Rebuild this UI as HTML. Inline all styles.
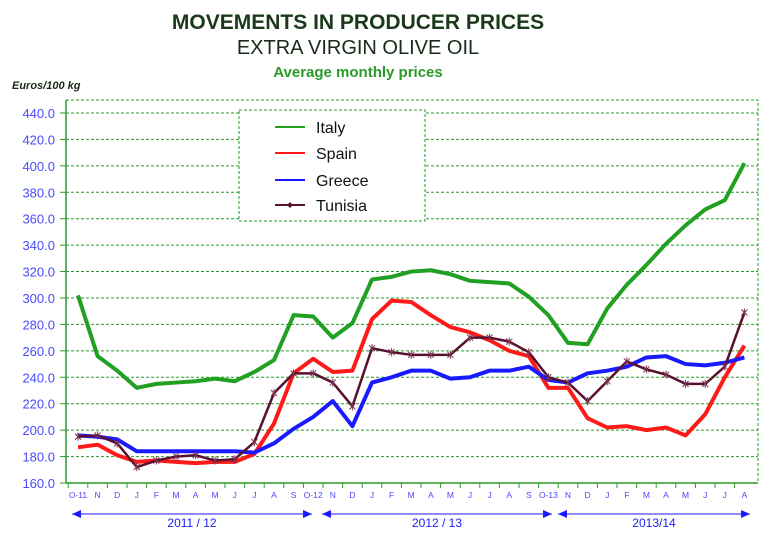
<!DOCTYPE html>
<html><head><meta charset="utf-8"><style>
body{margin:0;background:#fff;width:770px;height:539px;overflow:hidden}
svg{display:block;font-family:"Liberation Sans",Arial,sans-serif}
</style></head><body>
<svg id="s" width="770" height="539" xmlns="http://www.w3.org/2000/svg">
<text x="358" y="29" text-anchor="middle" font-size="21" font-weight="bold" fill="#1a3a1a">MOVEMENTS IN PRODUCER PRICES</text>
<text x="358" y="54" text-anchor="middle" font-size="20" fill="#1a2a1a">EXTRA VIRGIN OLIVE OIL</text>
<text x="358" y="77" text-anchor="middle" font-size="15" font-weight="bold" fill="#2a9a2a">Average monthly prices</text>
<text x="12" y="89" font-size="11" font-weight="bold" font-style="italic" fill="#1a2a1a">Euros/100 kg</text>
<g id="g"></g>
</svg>
<script>
const g=document.getElementById('g');let h='';
const X0=78,DX=19.6,Y0=483,K=26.43/20;
const yv=v=>Y0-(v-160)*K, xi=i=>X0+i*DX;
h+=`<rect x="66" y="100" width="692" height="383" fill="none" stroke="#2a9a2a" stroke-dasharray="3,2"/>`;
for(let v=160;v<=440;v+=20){const y=yv(v);
 if(v>160)h+=`<line x1="66" x2="758" y1="${y}" y2="${y}" stroke="#2a9a2a" stroke-dasharray="3,2"/>`;
 h+=`<line x1="60" x2="66" y1="${y}" y2="${y}" stroke="#2a9a2a"/>`;
 h+=`<text x="55" y="${y+5}" text-anchor="end" font-size="13" fill="#4a4aff">${v.toFixed(1)}</text>`;}
h+=`<line x1="66" x2="66" y1="100" y2="483" stroke="#2a9a2a" stroke-width="1.5"/><line x1="66" x2="758" y1="483" y2="483" stroke="#2a9a2a" stroke-width="1.5"/>`;
const L=['O-11','N','D','J','F','M','A','M','J','J','A','S','O-12','N','D','J','F','M','A','M','J','J','A','S','O-13','N','D','J','F','M','A','M','J','J','A'];
L.forEach((t,i)=>{h+=`<line x1="${xi(i)-DX/2}" x2="${xi(i)-DX/2}" y1="483" y2="488" stroke="#2a9a2a"/>`;
 h+=`<text x="${xi(i)}" y="498" text-anchor="middle" font-size="8.5" fill="#4a4aff">${t}</text>`;});
const S={
it:[302,256,245,232,235,236,237,239,237,244,253,287,286,270,281,314,316,320,321,318,313,312,311,301,287,266,265,292,310,325,341,355,367,374,402],
es:[187,189,181,176,177,176,175,176,176,182,205,243,254,244,245,284,298,297,287,278,274,268,260,256,232,232,209,202,203,200,202,196,212,240,264],
gr:[196,195,193,184,184,184,184,184,184,183,190,201,210,222,203,236,240,245,245,239,240,245,245,248,238,236,243,245,248,255,256,250,249,251,255],
tn:[195,196,190,172,177,180,181,177,178,191,228,243,243,236,218,262,259,257,257,257,270,270,267,259,240,236,222,237,252,246,242,235,235,248,289]};
const pl=(a,c,w)=>`<polyline fill="none" stroke="${c}" stroke-width="${w}" stroke-linejoin="round" points="${a.map((v,i)=>xi(i)+','+yv(v)).join(' ')}"/>`;
h+=pl(S.it,'#22a022',4)+pl(S.es,'#ff1a1a',4)+pl(S.gr,'#1a1aff',4)+pl(S.tn,'#5a1030',2.5);
S.tn.forEach((v,i)=>{const x=xi(i),y=yv(v);h+=`<path d="M${x-3} ${y-3}L${x+3} ${y+3}M${x+3} ${y-3}L${x-3} ${y+3}M${x} ${y-4}V${y+4}" stroke="#7a3050" stroke-width="1"/>`;});
h+=`<rect x="239" y="110" width="186" height="111" fill="#fff" stroke="#2a9a2a" stroke-dasharray="3,2"/>`;
[['Italy','#22a022',127],['Spain','#ff1a1a',153],['Greece','#1a1aff',180],['Tunisia','#5a1030',205]].forEach(([t,c,y])=>{
 h+=`<line x1="275" x2="305" y1="${y}" y2="${y}" stroke="${c}" stroke-width="2"/><text x="316" y="${y+6}" font-size="16" fill="#111">${t}</text>`;});
h+=`<path d="M290 202l3 3-3 3-3-3z" fill="#5a1030"/>`;
[[72,312,'2011 / 12'],[322,552,'2012 / 13'],[558,750,'2013/14']].forEach(([a,b,t])=>{
 h+=`<line x1="${a}" x2="${b}" y1="514" y2="514" stroke="#1a1aff"/><path d="M${a} 514l9-4v8zM${b} 514l-9-4v8z" fill="#1a1aff"/>`;
 h+=`<text x="${(a+b)/2}" y="527" text-anchor="middle" font-size="12" fill="#1a1aff">${t}</text>`;});
g.innerHTML=h;
</script>
</body></html>
